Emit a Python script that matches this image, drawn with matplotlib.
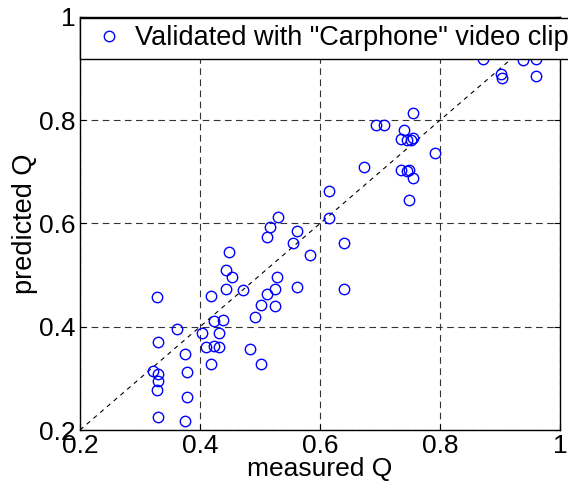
import matplotlib
matplotlib.use("Agg")
import matplotlib.pyplot as plt

plt.rcParams['font.family'] = ['Liberation Sans', 'DejaVu Sans']

measured = [0.615, 0.615, 0.640, 0.640, 0.530, 0.516, 0.511, 0.561, 0.555, 0.583,
            0.449, 0.443, 0.454, 0.443, 0.472, 0.528, 0.525, 0.561, 0.511, 0.502,
            0.525, 0.491, 0.4175, 0.329, 0.4225, 0.4375, 0.361, 0.4025, 0.431, 0.410,
            0.424, 0.431, 0.330, 0.375, 0.484, 0.4175, 0.502, 0.321, 0.330, 0.330,
            0.329, 0.378, 0.378, 0.330, 0.375,
            0.755, 0.6925, 0.706, 0.740, 0.735, 0.745, 0.751, 0.755, 0.791, 0.674,
            0.735, 0.745, 0.749, 0.755, 0.7475,
            0.901, 0.9025, 0.960, 0.871, 0.939, 0.960]
predicted = [0.662, 0.611, 0.563, 0.474, 0.613, 0.594, 0.573, 0.585, 0.563, 0.539,
             0.544, 0.510, 0.496, 0.474, 0.472, 0.496, 0.474, 0.477, 0.464, 0.443,
             0.441, 0.419, 0.459, 0.457, 0.411, 0.413, 0.395, 0.387, 0.387, 0.361,
             0.363, 0.361, 0.370, 0.348, 0.356, 0.328, 0.327, 0.315, 0.308, 0.294,
             0.278, 0.313, 0.264, 0.225, 0.218,
             0.814, 0.790, 0.790, 0.781, 0.763, 0.762, 0.762, 0.765, 0.737, 0.710,
             0.703, 0.702, 0.703, 0.688, 0.645,
             0.889, 0.881, 0.885, 0.919, 0.917, 0.919]
ticks = [0.2, 0.4, 0.6, 0.8, 1.0]
tick_labels = ["0.2", "0.4", "0.6", "0.8", "1"]
legend_label = 'Validated with "Carphone" video clip'

fig = plt.figure(figsize=(5.68, 4.94), dpi=100)
ax = fig.add_axes([80 / 568, 1 - 430 / 494, 480 / 568, 413 / 494])

ax.plot([0.2, 1.0], [0.2, 1.0], linestyle=(0, (4, 4)), color='black', lw=0.8, zorder=2)
ax.plot(measured, predicted, 'o', mfc='none', mec='blue', ms=7.5, mew=1.0,
        linestyle='none', label=legend_label, zorder=3)

ax.set_xlim(0.2, 1.0)
ax.set_ylim(0.2, 1.0)
ax.set_xticks(ticks)
ax.set_xticklabels(tick_labels)
ax.set_yticks(ticks)
ax.set_yticklabels(tick_labels)
ax.tick_params(direction='in', labelsize=19, length=4, top=True, right=True, pad=3)
ax.grid(True, linestyle=(0, (6, 4)), color='#333333', lw=0.8)
for s in ax.spines.values():
    s.set_linewidth(1.0)

ax.set_xlabel('measured Q', fontsize=19, labelpad=-1)
ax.set_ylabel('predicted Q', fontsize=19.5, labelpad=1)

leg = ax.legend(loc='upper left', bbox_to_anchor=(0.0, 0.998), borderaxespad=0,
                fontsize=19.5, fancybox=False, framealpha=1, edgecolor='black',
                handletextpad=0.15, borderpad=0.28, handlelength=1.6)
leg.get_frame().set_linewidth(1.0)
leg.set_zorder(10)

fig.savefig('out.png', dpi=100)
